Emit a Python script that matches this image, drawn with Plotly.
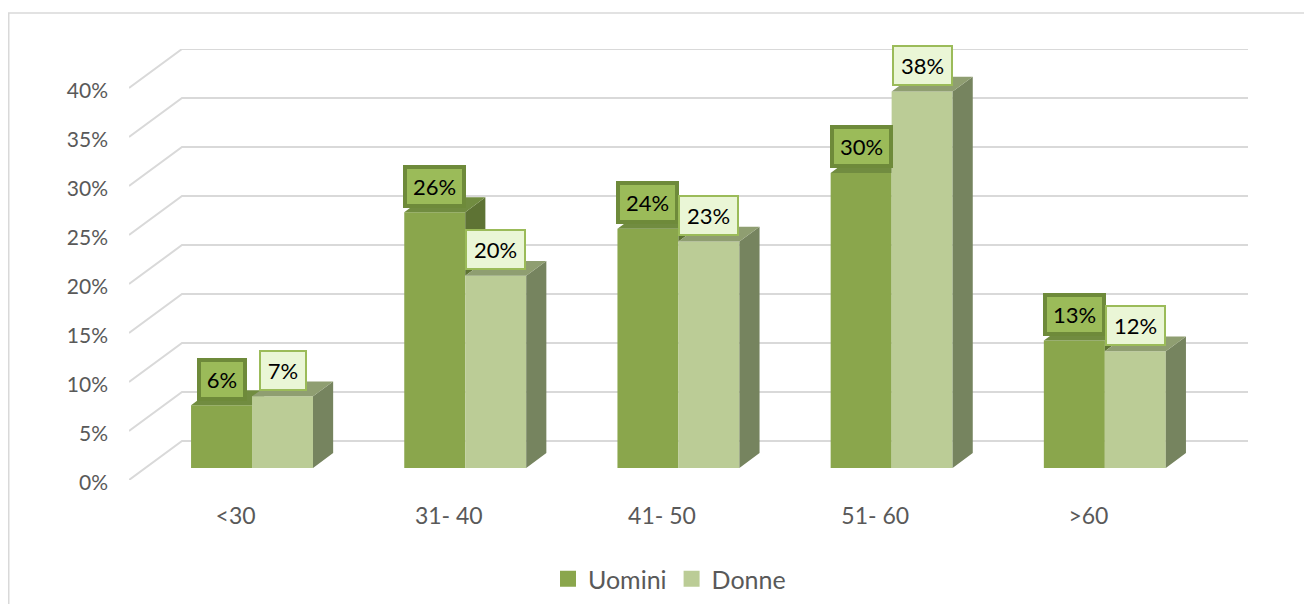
import plotly.graph_objects as go

# ---------------- data ----------------
categories = ["<30", "31- 40", "41- 50", "51- 60", ">60"]
uomini = [6.4, 26.1, 24.4, 30.1, 13.0]
donne = [7.3, 19.6, 23.1, 38.4, 11.9]
y_ticks = [0, 5, 10, 15, 20, 25, 30, 35, 40]
series_names = ["Uomini", "Donne"]

# ---------------- 3D geometry (oblique projection) ----------------
DX = 53 / 213.2      # x-shift (category units) for full depth
DY = 39 / 9.8        # y-shift (percent units) for full depth
D0, D1 = 0.31, 0.69  # bar front / back depth fractions
BW = 0.286           # bar width in category units
BASE = D0 * DY
SX = (D1 - D0) * DX
SY = (D1 - D0) * DY

FONT = "Lato, 'Open Sans', sans-serif"

styles = {
    "Uomini": dict(front="#8AA64C", side="#5E7334", top="#718C40"),
    "Donne": dict(front="#BBCC96", side="#76845F", top="#8F9E71"),
}

fig = go.Figure()

# back wall grid lines (oblique + horizontal), drawn below the bars
for t in y_ticks:
    fig.add_shape(type="path", xref="x", yref="y", layer="below",
                  path=f"M 0,{t} L {DX},{t + DY} L {len(categories) + DX},{t + DY}",
                  line=dict(color="#D9D9D9", width=2))


def left_edge(i, k):
    # k = 0 Uomini, 1 Donne
    return i + 0.5 - BW + k * BW + D0 * DX


def poly(pts):
    xs = [p[0] for p in pts] + [pts[0][0], None]
    ys = [p[1] for p in pts] + [pts[0][1], None]
    return xs, ys


for k, (name, vals) in enumerate(zip(series_names, [uomini, donne])):
    st = styles[name]
    other = donne if k == 0 else None
    sx, sy, tx, ty = [], [], [], []
    for i, v in enumerate(vals):
        xl = left_edge(i, k)
        xr = xl + BW
        top = v + BASE
        if k == 0:
            # right neighbour (Donne) hides part of the side and top faces
            td = other[i] + BASE
            if top > td:
                px, py = poly([(xr, td), (xr, top), (xr + SX, top + SY), (xr + SX, td + SY)])
                sx += px; sy += py
                px, py = poly([(xl, top), (xr, top), (xr + SX, top + SY), (xl + SX, top + SY)])
            elif td < top + SY:
                xm = xr + (td - top) / SY * SX
                px, py = poly([(xl, top), (xr, top), (xr, td), (xm, td),
                               (xr + SX, top + SY), (xl + SX, top + SY)])
            else:
                px, py = poly([(xl, top), (xr, top), (xr, top + SY), (xl + SX, top + SY)])
            tx += px; ty += py
        else:
            px, py = poly([(xr, BASE), (xr, top), (xr + SX, top + SY), (xr + SX, BASE + SY)])
            sx += px; sy += py
            px, py = poly([(xl, top), (xr, top), (xr + SX, top + SY), (xl + SX, top + SY)])
            tx += px; ty += py
    if sx:
        fig.add_trace(go.Scatter(x=sx, y=sy, mode="lines", fill="toself", fillcolor=st["side"],
                                 line=dict(width=0, color=st["side"]), hoverinfo="skip",
                                 showlegend=False))
    fig.add_trace(go.Scatter(x=tx, y=ty, mode="lines", fill="toself", fillcolor=st["top"],
                             line=dict(width=0, color=st["top"]), hoverinfo="skip", showlegend=False))
    fig.add_trace(go.Bar(
        x=[left_edge(i, k) + BW / 2 for i in range(len(vals))],
        y=vals, base=BASE, width=BW, name=name,
        marker=dict(color=st["front"], line=dict(width=0)),
        showlegend=False, hoverinfo="skip",
    ))
    # legend proxy
    fig.add_trace(go.Scatter(x=[None], y=[None], mode="markers", name=name,
                             marker=dict(symbol="square", size=16, color=st["front"])))

    # data labels
    for i, v in enumerate(vals):
        txt = f"{round(v)}%"
        tw = 13 * len(txt) + 2
        if k == 0:
            ann = dict(bgcolor="#9BBB59", bordercolor="#6E8A3A", borderwidth=4, borderpad=4, width=tw + 6)
        else:
            ann = dict(bgcolor="#EAF6D6", bordercolor="#9BBB59", borderwidth=2, borderpad=5, width=tw + 6)
        fig.add_annotation(x=left_edge(i, k) + BW / 2, y=v + BASE, text=txt, showarrow=False,
                           yanchor="middle", xanchor="center", yshift=26,
                           font=dict(family=FONT, size=22, color="#000000"), **ann)

# page has an 8px body margin -> figure is 1296x596 inside a 1312x612 window
W, H = 1296, 596
L, R, T, B = 121, 56, 41, 124
pw, ph = W - L - R, H - T - B
fig.add_shape(type="rect", xref="paper", yref="paper",
              x0=(0.75 - L) / pw, x1=(W + 5 - L) / pw,
              y0=(H - B - (H + 5)) / ph, y1=(H - B - 5) / ph,
              line=dict(color="#D9D9D9", width=1.5), fillcolor="rgba(0,0,0,0)", layer="below")

fig.update_layout(
    width=W, height=H,
    margin=dict(l=L, r=R, t=T, b=B, autoexpand=False),
    paper_bgcolor="white", plot_bgcolor="white",
    barmode="overlay",
    font=dict(family=FONT, size=20, color="#595959"),
    xaxis=dict(range=[0, len(categories) + DX], tickmode="array",
               tickvals=[i + 0.5 for i in range(len(categories))], ticktext=categories,
               showgrid=False, zeroline=False, showline=False, ticks="",
               ticklabelstandoff=20, tickfont=dict(size=23, color="#595959"), fixedrange=True),
    yaxis=dict(range=[0, 40 + DY], tickmode="array", tickvals=y_ticks,
               ticktext=[f"{t}%" for t in y_ticks],
               showgrid=False, zeroline=False, showline=False, ticks="",
               ticklabelstandoff=20, ticklabelshift=3,
               tickfont=dict(size=21, color="#595959"), fixedrange=True),
    legend=dict(orientation="h", x=0.483, xanchor="center", y=(H - B - 571) / ph,
                yanchor="middle", bgcolor="rgba(0,0,0,0)",
                font=dict(size=25, color="#595959"), itemwidth=30, traceorder="normal"),
)

fig.write_html("out.html")
